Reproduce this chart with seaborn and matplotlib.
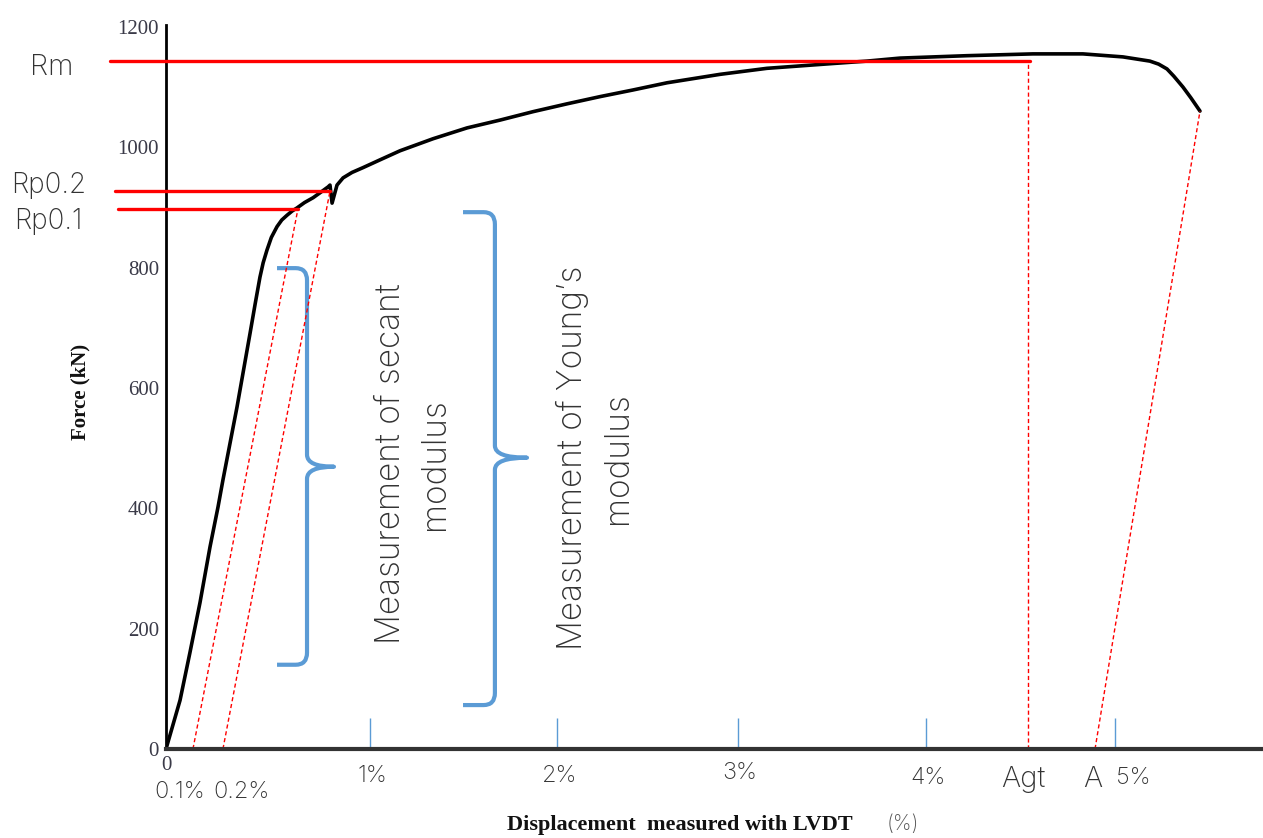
import matplotlib

matplotlib.use("Agg")
import matplotlib.pyplot as plt  # noqa: E402
import pandas as pd  # noqa: E402
import seaborn as sns  # noqa: E402
from matplotlib.path import Path  # noqa: E402
from matplotlib.patches import PathPatch  # noqa: E402

# force-displacement curve (displacement in %, force in kN)
strain_pct = [0.0, 0.074, 0.126, 0.179, 0.232, 0.274, 0.300, 0.374, 0.443, 0.470, 0.495,
              0.512, 0.532, 0.555, 0.585, 0.610, 0.638, 0.665, 0.690, 0.730, 0.775, 0.815,
              0.854, 0.864, 0.875, 0.901, 0.933, 0.980, 1.038, 1.128, 1.233, 1.407, 1.586,
              1.760, 1.934, 2.113, 2.287, 2.460, 2.640, 2.919, 3.166, 3.514, 3.693, 3.867,
              4.220, 4.568, 4.831, 5.042, 5.184, 5.230, 5.274, 5.310, 5.358, 5.400, 5.448]
force_kn = [0, 81, 160, 243, 336, 402, 447, 568, 691, 740, 784,
            808, 829, 850, 868, 879, 887, 894, 899, 908, 916, 925,
            934, 937, 907, 937, 949, 958, 966, 979, 994, 1014, 1032,
            1045, 1059, 1072, 1084, 1095, 1107, 1121, 1131, 1139, 1143, 1148,
            1152, 1155, 1155, 1150, 1143, 1138, 1130, 1118, 1100, 1082, 1060]

# characteristic levels (kN) and where their red lines start / end (%)
ref_names = ["Rm", "Rp0.2", "Rp0.1"]
ref_force = [1143, 927, 897]
ref_start = [-0.295, -0.269, -0.253]
ref_end = [4.552, 0.864, 0.695]
ref_label_x = [-0.60, -0.62, -0.62]
ref_label_y = [1133, 936, 876]

# dashed offset / unloading lines: x at F=0, x at top, F at top
offset_foot = [0.142, 0.300, 4.895]
offset_top_x = [0.695, 0.864, 5.448]
offset_top_f = [897, 927, 1060]
AGT_PCT = 4.542

# blue tick marks on the displacement axis
tick_pos = [1.075, 2.06, 3.014, 4.004, 5.0]
# labels under the axis
xlab_text = ["0.1%", "0.2%", "1%", "2%", "3%", "4%", "5%"]
xlab_pos = [0.074, 0.40, 1.085, 2.076, 3.024, 4.015, 5.095]
xlab_y = [-71, -71, -45, -45, -40, -48, -48]
mark_text = ["Agt", "A"]
mark_pos = [4.515, 4.884]

y_ticks = [0, 200, 400, 600, 800, 1000, 1200]

# braces: left stub x, spine x, tip x / top, tip, bottom
brace_x = [(0.585, 0.743, 0.885), (1.565, 1.733, 1.902)]
brace_y = [(799, 469, 140), (892, 484, 73)]
brace_text = ["Measurement of secant\nmodulus", "Measurement of Young\u2019s\nmodulus"]
brace_text_pos = [(1.300, 474), (2.26, 484)]

RED = "#FF0000"
BLUE = "#5B9BD5"
INK = "#333333"
SERIF = ["Liberation Serif", "DejaVu Serif"]
THIN = 200

sns.set_theme(style="white")
plt.rcParams["font.family"] = ["Inter", "DejaVu Sans"]


def brace(ax, xs, ys, rx=0.06, ry=20):
    x0, xv, xt = xs
    top, mid, bot = ys
    verts = [(x0, top), (xv - rx, top), (xv, top), (xv, top - ry),
             (xv, mid + ry), (xv, mid), (xt, mid),
             (xv, mid), (xv, mid - ry),
             (xv, bot + ry), (xv, bot), (xv - rx, bot), (x0, bot)]
    codes = [Path.MOVETO, Path.LINETO, Path.CURVE3, Path.CURVE3,
             Path.LINETO, Path.CURVE3, Path.CURVE3,
             Path.CURVE3, Path.CURVE3,
             Path.LINETO, Path.CURVE3, Path.CURVE3, Path.LINETO]
    ax.add_patch(PathPatch(Path(verts, codes), fill=False, edgecolor=BLUE, lw=3,
                           capstyle="butt", joinstyle="round"))


fig = plt.figure(figsize=(12.63, 8.38), dpi=100)
ax = fig.add_axes([166 / 1263, 89 / 838, 1097 / 1263, 724 / 838])

curve = pd.DataFrame({"strain": strain_pct, "force": force_kn})
sns.lineplot(data=curve, x="strain", y="force", sort=False, color="black", lw=2.6, ax=ax)
ax.lines[0].set_solid_joinstyle("round")

for f, x0, x1 in zip(ref_force, ref_start, ref_end):
    ax.plot([x0, x1], [f, f], color=RED, lw=2.4, clip_on=False, zorder=3)
for x0, x1, f in zip(offset_foot, offset_top_x, offset_top_f):
    ax.plot([x0, x1], [0, f], color=RED, lw=1, dashes=(3, 2))
ax.plot([AGT_PCT, AGT_PCT], [0, ref_force[0]], color=RED, lw=1, dashes=(3, 2))

for xs, ys in zip(brace_x, brace_y):
    brace(ax, xs, ys)
for txt, (x, y) in zip(brace_text, brace_text_pos):
    ax.text(x, y, txt, rotation=90, ha="center", va="center", multialignment="center",
            fontsize=24, fontweight=THIN, color=INK, linespacing=1.5)

# reference labels left of the force axis
for name, x, y in zip(ref_names, ref_label_x, ref_label_y):
    ax.text(x, y, name, ha="center", va="center", fontsize=21 if name == "Rm" else 20,
            fontweight=THIN, color=INK, clip_on=False)

ax.set_xlim(0, 5.78)
ax.set_ylim(0, 1203)
ax.set_xticks(tick_pos, labels=[])
ax.tick_params(axis="x", direction="in", length=22, width=1, color=BLUE, bottom=True)
ax.set_yticks(y_ticks)
ax.tick_params(axis="y", length=0, pad=5, labelsize=15, labelcolor="#3a3a48")
for lbl in ax.get_yticklabels():
    lbl.set_family(SERIF)

for txt, x, y in zip(xlab_text, xlab_pos, xlab_y):
    ax.text(x, y, txt, ha="center", va="center", fontsize=17, fontweight=THIN,
            color=INK, clip_on=False)
for txt, x in zip(mark_text, mark_pos):
    ax.text(x, -50, txt, ha="center", va="center", fontsize=21, fontweight=THIN,
            color=INK, clip_on=False)
ax.text(0.0, -28, "0", ha="center", va="center", fontsize=15, family=SERIF,
        color="#3a3a48", clip_on=False)

ax.text(2.708, -126, "Displacement  measured with LVDT", ha="center", va="center",
        fontsize=16, fontweight="bold", family=SERIF, color="#111111", clip_on=False)
ax.text(3.88, -124, "(%)", ha="center", va="center", fontsize=15, fontweight=THIN,
        color="#555555", clip_on=False)
ax.text(-0.453, 593, "Force (kN)", rotation=90, ha="center", va="center", fontsize=15,
        fontweight="bold", family=SERIF, color="#111111", clip_on=False)
ax.set(xlabel="", ylabel="")

sns.despine(ax=ax)
ax.spines["left"].set_color("black")
ax.spines["left"].set_linewidth(2)
ax.spines["bottom"].set_color("#333333")
ax.spines["bottom"].set_linewidth(3)

fig.savefig("out.png", dpi=100, facecolor="white")
